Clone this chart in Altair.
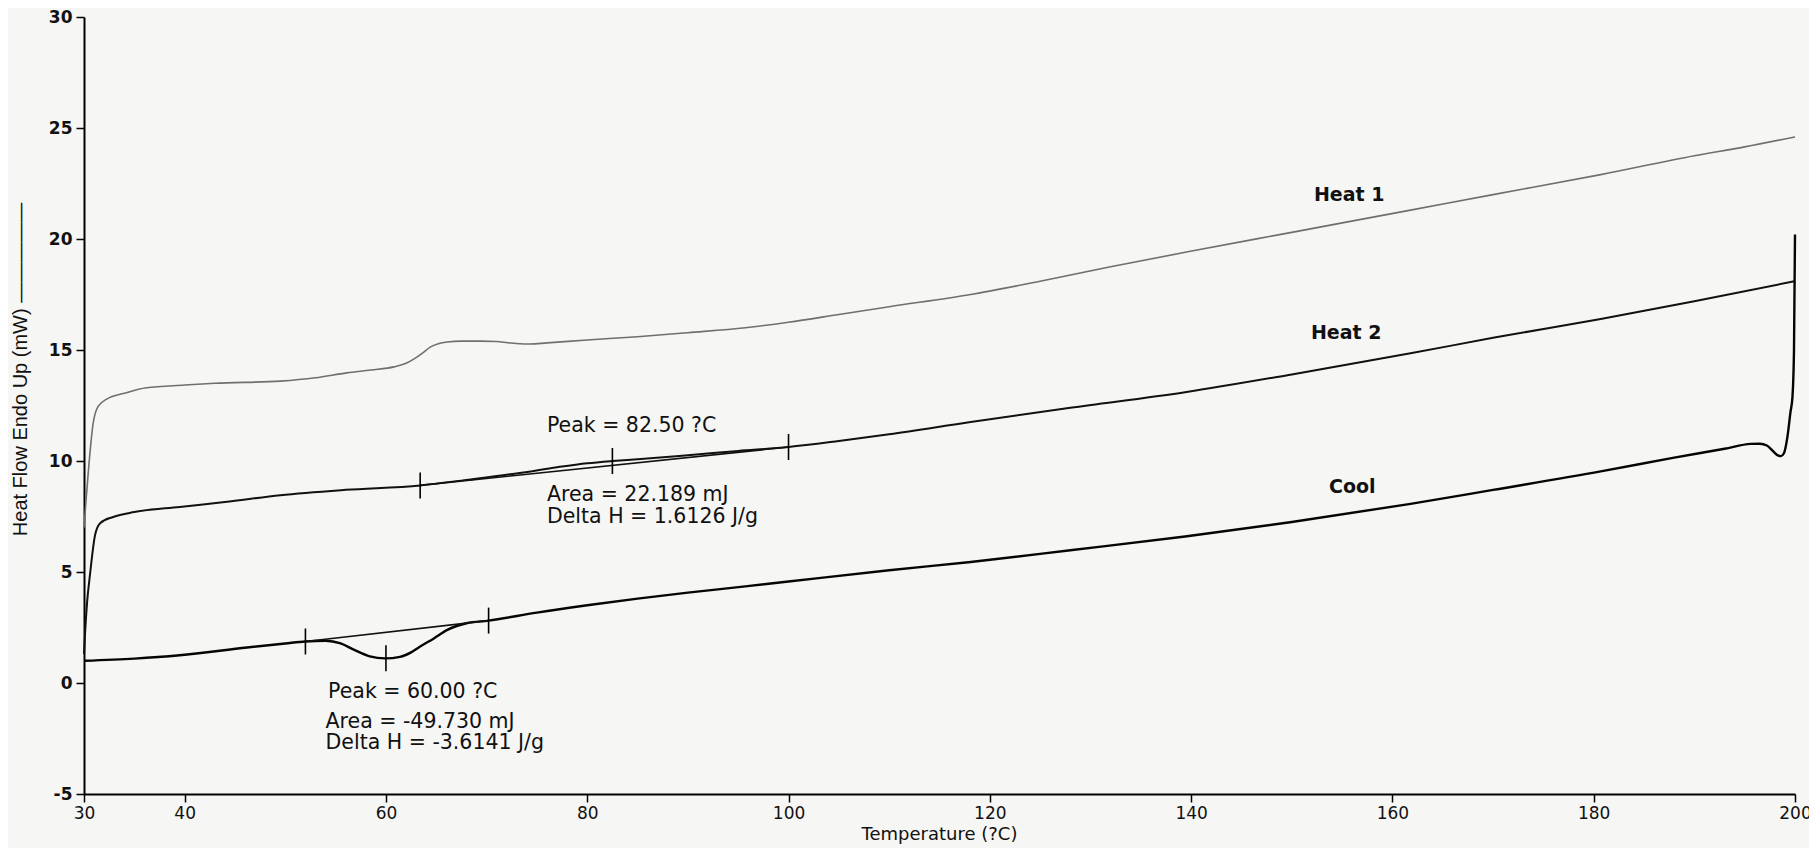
import altair as alt
import pandas as pd

# ---------------- data ----------------
heat1_t = [30.0, 30.2, 30.4, 30.9, 31.4, 32.3, 34.0, 36.2, 40.0, 43.0, 49.5, 53.0, 56.1, 58.5,
           60.8, 62.0, 62.8, 63.6, 64.4, 65.2, 66.1, 67.5, 69.4, 71.0, 72.1, 73.3, 74.3, 76.0,
           80.0, 85.0, 90.0, 95.7, 100.0, 105.0, 110.0, 118.1, 125.0, 132.0, 139.4, 150.0,
           161.8, 170.0, 180.7, 190.0, 195.0, 200.0]
heat1_hf = [7.0, 8.2, 9.35, 11.67, 12.46, 12.8, 13.05, 13.3, 13.42, 13.5, 13.6, 13.75, 13.97, 14.1,
            14.24, 14.4, 14.6, 14.85, 15.13, 15.28, 15.36, 15.4, 15.4, 15.38, 15.33, 15.28, 15.27, 15.32,
            15.45, 15.6, 15.78, 16.0, 16.25, 16.6, 16.95, 17.5, 18.1, 18.75, 19.4, 20.3,
            21.3, 22.0, 22.9, 23.75, 24.15, 24.6]

heat2_t = [30.0, 30.1, 30.3, 30.6, 31.1, 31.6, 32.9, 35.0, 39.5, 44.0, 49.5, 56.0, 63.4, 68.0,
           73.3, 77.0, 80.0, 82.5, 85.0, 90.0, 95.0, 100.0, 105.0, 110.0, 118.1, 128.0, 139.4,
           150.0, 161.8, 170.0, 180.7, 190.0, 200.0]
heat2_hf = [1.3, 2.2, 3.6, 4.9, 6.67, 7.2, 7.48, 7.7, 7.93, 8.15, 8.46, 8.7, 8.9, 9.15,
            9.46, 9.72, 9.9, 10.0, 10.08, 10.26, 10.45, 10.63, 10.9, 11.2, 11.76, 12.4, 13.1,
            13.9, 14.85, 15.55, 16.4, 17.2, 18.1]

cool_t = [30.0, 35.0, 39.5, 46.2, 50.0, 52.0, 54.0, 55.5, 56.8, 58.4, 59.9, 61.4, 62.5, 63.4,
          64.8, 66.1, 68.0, 70.2, 75.0, 80.0, 85.0, 90.0, 95.7, 100.0, 110.0, 118.1, 128.0,
          139.4, 150.0, 161.8, 170.0, 180.7, 188.0, 193.0, 195.6, 196.5, 197.2, 197.8, 198.3,
          198.6, 198.9, 199.25, 199.55, 199.75, 199.9, 200.0]
cool_hf = [1.0, 1.1, 1.25, 1.6, 1.78, 1.87, 1.9, 1.78, 1.5, 1.2, 1.11, 1.18, 1.38, 1.64,
           2.02, 2.39, 2.69, 2.81, 3.17, 3.5, 3.8, 4.07, 4.35, 4.57, 5.08, 5.45, 5.98,
           6.6, 7.25, 8.07, 8.7, 9.53, 10.15, 10.55, 10.77, 10.78, 10.7, 10.45, 10.25,
           10.22, 10.35, 11.1, 12.2, 12.9, 15.0, 20.2]

# integration baselines (start / end of each peak)
base_seg = ["Heat 2", "Heat 2", "Cool", "Cool"]
base_t = [63.4, 100.0, 52.0, 70.2]
base_hf = [8.9, 10.63, 1.87, 2.81]

# marker ticks (onset, peak, end)
mark_t = [63.4, 82.5, 100.0, 52.0, 60.0, 70.2]
mark_hf = [8.9, 10.0, 10.63, 1.87, 1.11, 2.81]

# curve labels
label_text = ["Heat 1", "Heat 2", "Cool"]
label_t = [152.2, 151.9, 153.7]
label_hf = [22.0, 15.78, 8.84]

# peak annotations
note_text = ["Peak = 82.50 ?C", "Area = 22.189 mJ", "Delta H = 1.6126 J/g",
             "Peak = 60.00 ?C", "Area = -49.730 mJ", "Delta H = -3.6141 J/g"]
note_t = [76.0, 76.0, 76.0, 54.25, 54.0, 54.0]
note_hf = [11.56, 8.45, 7.48, -0.40, -1.74, -2.71]

x_ticks = [30, 40, 60, 80, 100, 120, 140, 160, 180, 200]
y_ticks = [-5, 0, 5, 10, 15, 20, 25, 30]

# ---------------- tables ----------------
def curve(ts, hs, name):
    return pd.DataFrame({"t": ts, "hf": hs, "series": name, "order": list(range(len(ts)))})

df_h1 = curve(heat1_t, heat1_hf, "Heat 1")
df_h2 = curve(heat2_t, heat2_hf, "Heat 2")
df_cool = curve(cool_t, cool_hf, "Cool")
df_base = pd.DataFrame({"t": base_t, "hf": base_hf, "seg": base_seg})
df_marks = pd.DataFrame({"t": mark_t, "hf": mark_hf})
df_labels = pd.DataFrame({"t": label_t, "hf": label_hf, "txt": label_text})
df_notes = pd.DataFrame({"t": note_t, "hf": note_hf, "txt": note_text})

x_enc = alt.X(
    "t:Q",
    scale=alt.Scale(domain=[30, 200], nice=False, zero=False),
    axis=alt.Axis(
        values=x_ticks, title="Temperature (?C)", grid=False,
        labelExpr="'' + datum.value",
        labelFont="DejaVu Sans", labelFontSize=17, labelColor="#111111", labelPadding=3,
        labelFlush=False, labelOverlap=False,
        tickSize=8, tickWidth=1.5, tickColor="#000000",
        domainColor="#000000", domainWidth=2,
        titleFont="DejaVu Sans", titleFontSize=18, titleFontWeight="normal", titleColor="#111111",
        titleX=855, titleY=40, titleAlign="center", titleBaseline="middle",
    ),
)
y_enc = alt.Y(
    "hf:Q",
    scale=alt.Scale(domain=[-5, 30], nice=False, zero=False),
    axis=alt.Axis(
        values=y_ticks, title="Heat Flow Endo Up (mW) —————", grid=False,
        labelExpr="'' + datum.value",
        labelFont="DejaVu Sans", labelFontSize=17, labelFontWeight="bold", labelColor="#111111",
        labelPadding=4, labelFlush=False, labelOverlap=False,
        tickSize=8, tickWidth=1.5, tickColor="#000000",
        domainColor="#000000", domainWidth=2,
        titleFont="Liberation Sans", titleFontSize=20, titleFontWeight="normal", titleColor="#111111",
        titleAngle=270, titleX=-64, titleY=352, titleAlign="center", titleBaseline="middle",
    ),
)

h1 = alt.Chart(df_h1).mark_line(color="#6f6f6f", strokeWidth=1.6, interpolate="monotone").encode(
    x=x_enc, y=y_enc, order="order:Q")
h2 = alt.Chart(df_h2).mark_line(color="#111111", strokeWidth=2.0, interpolate="monotone").encode(
    x=x_enc, y=y_enc, order="order:Q")
cl = alt.Chart(df_cool).mark_line(color="#050505", strokeWidth=2.4, interpolate="monotone").encode(
    x=x_enc, y=y_enc, order="order:Q")
bl = alt.Chart(df_base).mark_line(color="#111111", strokeWidth=1.6).encode(x=x_enc, y=y_enc, detail="seg:N")
mk = alt.Chart(df_marks).mark_tick(orient="vertical", color="#000000", size=26, thickness=1.6, opacity=1).encode(
    x=x_enc, y=y_enc)
lb = alt.Chart(df_labels).mark_text(
    align="left", baseline="middle", font="DejaVu Sans", fontWeight="bold", fontSize=19, color="#111111"
).encode(x=x_enc, y=y_enc, text="txt:N")
nt = alt.Chart(df_notes).mark_text(
    align="left", baseline="middle", font="DejaVu Sans", fontSize=20.5, color="#111111"
).encode(x=x_enc, y=y_enc, text="txt:N")

chart = (
    alt.layer(h1, h2, cl, bl, mk, lb, nt)
    .properties(
        width=1711, height=777,
        autosize=alt.AutoSizeParams(type="none"),
        padding={"left": 76, "top": 9, "right": 14, "bottom": 54},
        background="#f6f6f4",
    )
    .configure_view(stroke=None)
)

chart.save("out.html", embed_options={"renderer": "svg", "actions": False})
